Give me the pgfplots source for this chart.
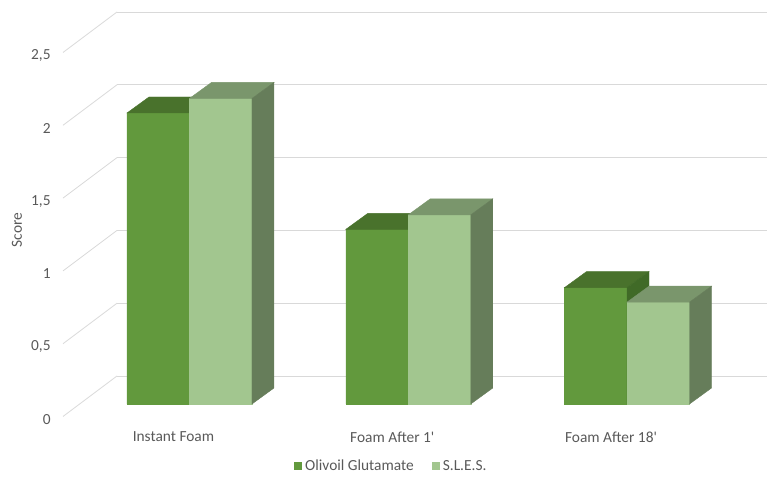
\documentclass[border=0pt]{standalone}
\usepackage{pgfplots}
\pgfplotsset{compat=1.18}
\usepackage{fontspec}
\setmainfont{Carlito}
\definecolor{gridc}{HTML}{D9D9D9}
\definecolor{txt}{HTML}{595959}
\definecolor{oFront}{HTML}{62993D}
\definecolor{oTop}{HTML}{49722C}
\definecolor{oSide}{HTML}{406A27}
\definecolor{sFront}{HTML}{A2C68F}
\definecolor{sTop}{HTML}{7A966C}
\definecolor{sSide}{HTML}{667D5A}
\pgfdeclareplotmark{none3d}{}
\newcommand{\lblfont}{\fontsize{15.4bp}{18bp}\selectfont}
\pgfplotsset{
  threed/.style n args={4}{
    only marks, scatter, mark=none3d, forget plot,
    visualization depends on={rawy \as \barval},
    scatter/@pre marker code/.code={%
      \fill[#4] (#1bp-31.25bp,0bp) rectangle (#1bp+31.25bp,{-\barval*145.5bp});
      \fill[#2] (#1bp-31.25bp,0bp) -- (#1bp+31.25bp,0bp) -- (#1bp+53.25bp,16bp) -- (#1bp-9.25bp,16bp) -- cycle;
      \fill[#3] (#1bp+31.25bp,0bp) -- (#1bp+53.25bp,16bp) -- (#1bp+53.25bp,{16bp-\barval*145.5bp}) -- (#1bp+31.25bp,{-\barval*145.5bp}) -- cycle;
    },
    scatter/@post marker code/.code={},
  }
}
\pgfplotstableread{
x olivoil sles
0 2.0 2.1
1 1.2 1.3
2 0.8 0.7
}\foamdata
\begin{document}
\begin{tikzpicture}
\useasboundingbox (0,0) rectangle (767bp,477bp);
% back wall with grid
\begin{axis}[
  at={(117bp,101bp)}, anchor=south west,
  scale only axis, width=650bp, height=364bp,
  xmin=0, xmax=1, ymin=0, ymax=2.5,
  ytick={0,0.5,1,1.5,2,2.5}, xtick=\empty, yticklabels={},
  ymajorgrids, grid style={gridc, line width=0.8bp},
  axis line style={draw=none}, major tick length=0,
  clip=false,
]
\addplot[draw=none, forget plot] coordinates {(0,0)};
\foreach \v in {0,0.5,1,1.5,2,2.5} {
  \edef\temp{\noexpand\draw[gridc, line width=0.8bp] (axis cs:0,\v) -- ++(-54bp,-40.5bp);}
  \temp
}
\end{axis}
% bars
\begin{axis}[
  at={(80.1bp,73bp)}, anchor=south west,
  scale only axis, width=656.3bp, height=363.75bp,
  xmin=-0.5, xmax=2.5, ymin=0, ymax=2.5,
  xtick={0,1,2}, xticklabels={Instant Foam, Foam After 1\textquotesingle, Foam After 18\textquotesingle},
  ytick={0,0.5,1,1.5,2,2.5}, yticklabels={0,{0,5},1,{1,5},2,{2,5}},
  /pgf/number format/assume math mode=true,
  axis line style={draw=none}, major tick length=0,
  tick label style={font=\lblfont, text=txt},
  yticklabel style={xshift=-26bp, yshift=-15.5bp},
  xticklabel style={xshift=-16bp, yshift=-24.5bp},
  clip=false,
  legend style={at={(0.475,-0.1705)}, anchor=center, draw=none, fill=none,
    legend columns=2, font=\lblfont, text=txt,
    /tikz/every even column/.append style={column sep=15bp},
    nodes={inner sep=3bp}},
]
\addplot[ybar, bar width=62.5bp, bar shift=-31.25bp, fill=oFront, draw=none,
  legend image code/.code={\fill[oFront] (0bp,-4bp) rectangle (8bp,4bp);}]
  table[x=x, y=olivoil] {\foamdata};
\addlegendentry{Olivoil Glutamate}
\addplot[ybar, bar width=62.5bp, bar shift=31.25bp, fill=sFront, draw=none,
  legend image code/.code={\fill[sFront] (0bp,-4bp) rectangle (8bp,4bp);}]
  table[x=x, y=sles] {\foamdata};
\addlegendentry{S.L.E.S.}
\addplot[threed={-31.25}{oTop}{oSide}{oFront}] table[x=x, y=olivoil] {\foamdata};
\addplot[threed={31.25}{sTop}{sSide}{sFront}] table[x=x, y=sles] {\foamdata};
\end{axis}
\node[rotate=90, font=\lblfont, text=txt] at (17bp,247bp) {Score};
\end{tikzpicture}
\end{document}
